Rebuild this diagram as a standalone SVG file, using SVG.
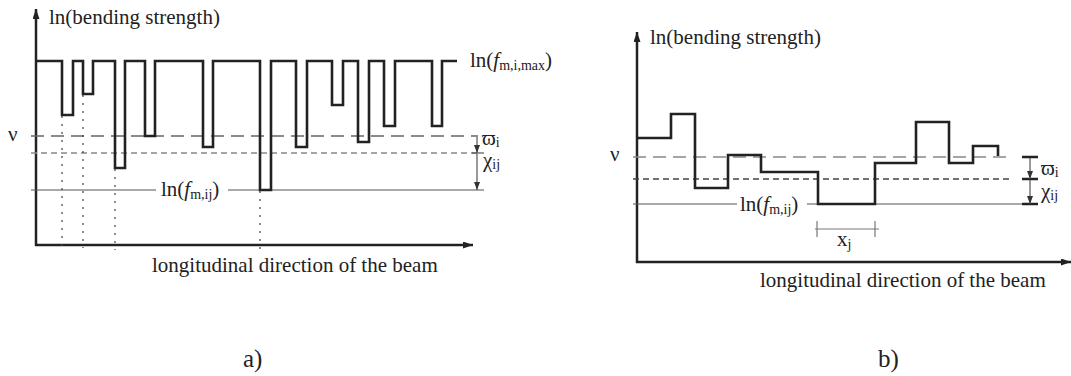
<svg xmlns="http://www.w3.org/2000/svg" width="1071" height="376" viewBox="0 0 1071 376">
<style>
text{font-family:'Liberation Serif','Tinos','DejaVu Serif','Times New Roman',serif;fill:#222}
.lbl{font-size:21px}
.sub{font-size:14px}
.axis{stroke:#222;stroke-width:2.5;fill:none}
.step{stroke:#222;stroke-width:2.6;fill:none;stroke-linejoin:miter}
.thin{stroke:#555;stroke-width:1.2;fill:none}
.dl{stroke:#666;stroke-width:1.3;stroke-dasharray:13 7;fill:none}
.ds{stroke:#888;stroke-width:1.5;stroke-dasharray:6 4;fill:none}
.dot{stroke:#444;stroke-width:1.2;stroke-dasharray:2 6;fill:none}
.tick{stroke:#222;stroke-width:2.6}
</style>
<defs>
<marker id="ah" markerWidth="10" markerHeight="7" refX="10" refY="3.5" orient="auto" markerUnits="userSpaceOnUse">
<path d="M0,0 L10,3.5 L0,7 z" fill="#222"/>
</marker>
<marker id="sa" markerWidth="8" markerHeight="6" refX="8" refY="3" orient="auto" markerUnits="userSpaceOnUse">
<path d="M0,0 L8,3 L0,6 z" fill="#333"/>
</marker>
</defs>

<g id="panel-a" font-family="Liberation Serif, Tinos, DejaVu Serif, serif">
<g id="a-axes">
<path class="axis" d="M36,246 V9" marker-end="url(#ah)"/>
<path class="axis" d="M35,245 H473" marker-end="url(#ah)"/>
</g>
<g id="a-levels">
<path class="dl" d="M31,136 H478"/>
<path class="ds" d="M31,153 H478"/>
<path class="thin" d="M31,190 H156 M228,190 H484"/>
<path class="thin" d="M472,153 H484"/>
</g>
<g id="a-dots">
<path class="dot" d="M62,116 V248 M83,95 V248 M115,169 V250 M260,191 V250"/>
</g>
<path id="a-strength" class="step" d="M37,61 H62 V115 H73 V61 H83 V94 H93 V61 H115 V168 H125 V61 H145 V136 H155 V61 H203 V147 H213 V61 H260 V190 H271 V61 H296 V147 H307 V61 H332 V105 H343 V61 H358 V142 H369 V61 H384 V126 H395 V61 H432 V126 H442 V61 H457"/>
<g id="a-connectors">
<path class="thin" d="M477,137 V153" marker-end="url(#sa)"/>
<path class="thin" d="M477,154 V190" marker-end="url(#sa)"/>
</g>
<g id="a-labels">
<text class="lbl" x="49" y="24">ln(bending strength)</text>
<text class="lbl" x="8" y="141">ν</text>
<text class="lbl" x="470" y="67">ln(<tspan font-style="italic">f</tspan><tspan class="sub" dy="3">m,i,max</tspan><tspan dy="-3">)</tspan></text>
<text class="lbl" x="161" y="196">ln(<tspan font-style="italic">f</tspan><tspan class="sub" dy="3">m,ij</tspan><tspan dy="-3">)</tspan></text>
<text class="lbl" x="482" y="145">ϖ<tspan class="sub" dy="2">i</tspan></text>
<text class="lbl" x="483" y="167">χ<tspan class="sub" dy="2">ij</tspan></text>
<text class="lbl" x="152" y="272">longitudinal direction of the beam</text>
<text x="243" y="367" font-size="25">a)</text>
</g>
</g>

<g id="panel-b" font-family="Liberation Serif, Tinos, DejaVu Serif, serif">
<g id="b-axes">
<path class="axis" d="M637,263 V32" marker-end="url(#ah)"/>
<path class="axis" d="M636,262 H1071" marker-end="url(#ah)"/>
</g>
<g id="b-levels">
<path class="ds" d="M633,157 H1013" style="stroke:#888;stroke-dasharray:13 7"/>
<path class="ds" d="M633,179 H1013" style="stroke:#444"/>
<path class="thin" d="M633,204 H737 M807,204 H1023"/>
</g>
<path id="b-strength" class="step" d="M637,138 H671 V114 H695 V188 H728 V155 H761 V172 H818 V204 H875 V163 H916 V122 H949 V163 H973 V146 H998 V156"/>
<g id="b-xj">
<path class="thin" style="stroke:#777" d="M815,229 H879 M817,221 V237 M875,221 V237"/>
</g>
<g id="b-connectors">
<path class="tick" d="M1022,157 H1038 M1022,179 H1038 M1022,204 H1038"/>
<path class="thin" d="M1030,158 V179" marker-end="url(#sa)"/>
<path class="thin" d="M1030,180 V204" marker-end="url(#sa)"/>
</g>
<g id="b-labels">
<text class="lbl" x="650" y="44">ln(bending strength)</text>
<text class="lbl" x="610" y="161">ν</text>
<text class="lbl" x="740" y="211">ln(<tspan font-style="italic">f</tspan><tspan class="sub" dy="3">m,ij</tspan><tspan dy="-3">)</tspan></text>
<text class="lbl" x="1041" y="175">ϖ<tspan class="sub" dy="2">i</tspan></text>
<text class="lbl" x="1041" y="198">χ<tspan class="sub" dy="2">ij</tspan></text>
<text class="lbl" x="837" y="246">x<tspan class="sub" dy="3">j</tspan></text>
<text class="lbl" x="760" y="287">longitudinal direction of the beam</text>
<text x="878" y="367" font-size="25">b)</text>
</g>
</g>
</svg>
